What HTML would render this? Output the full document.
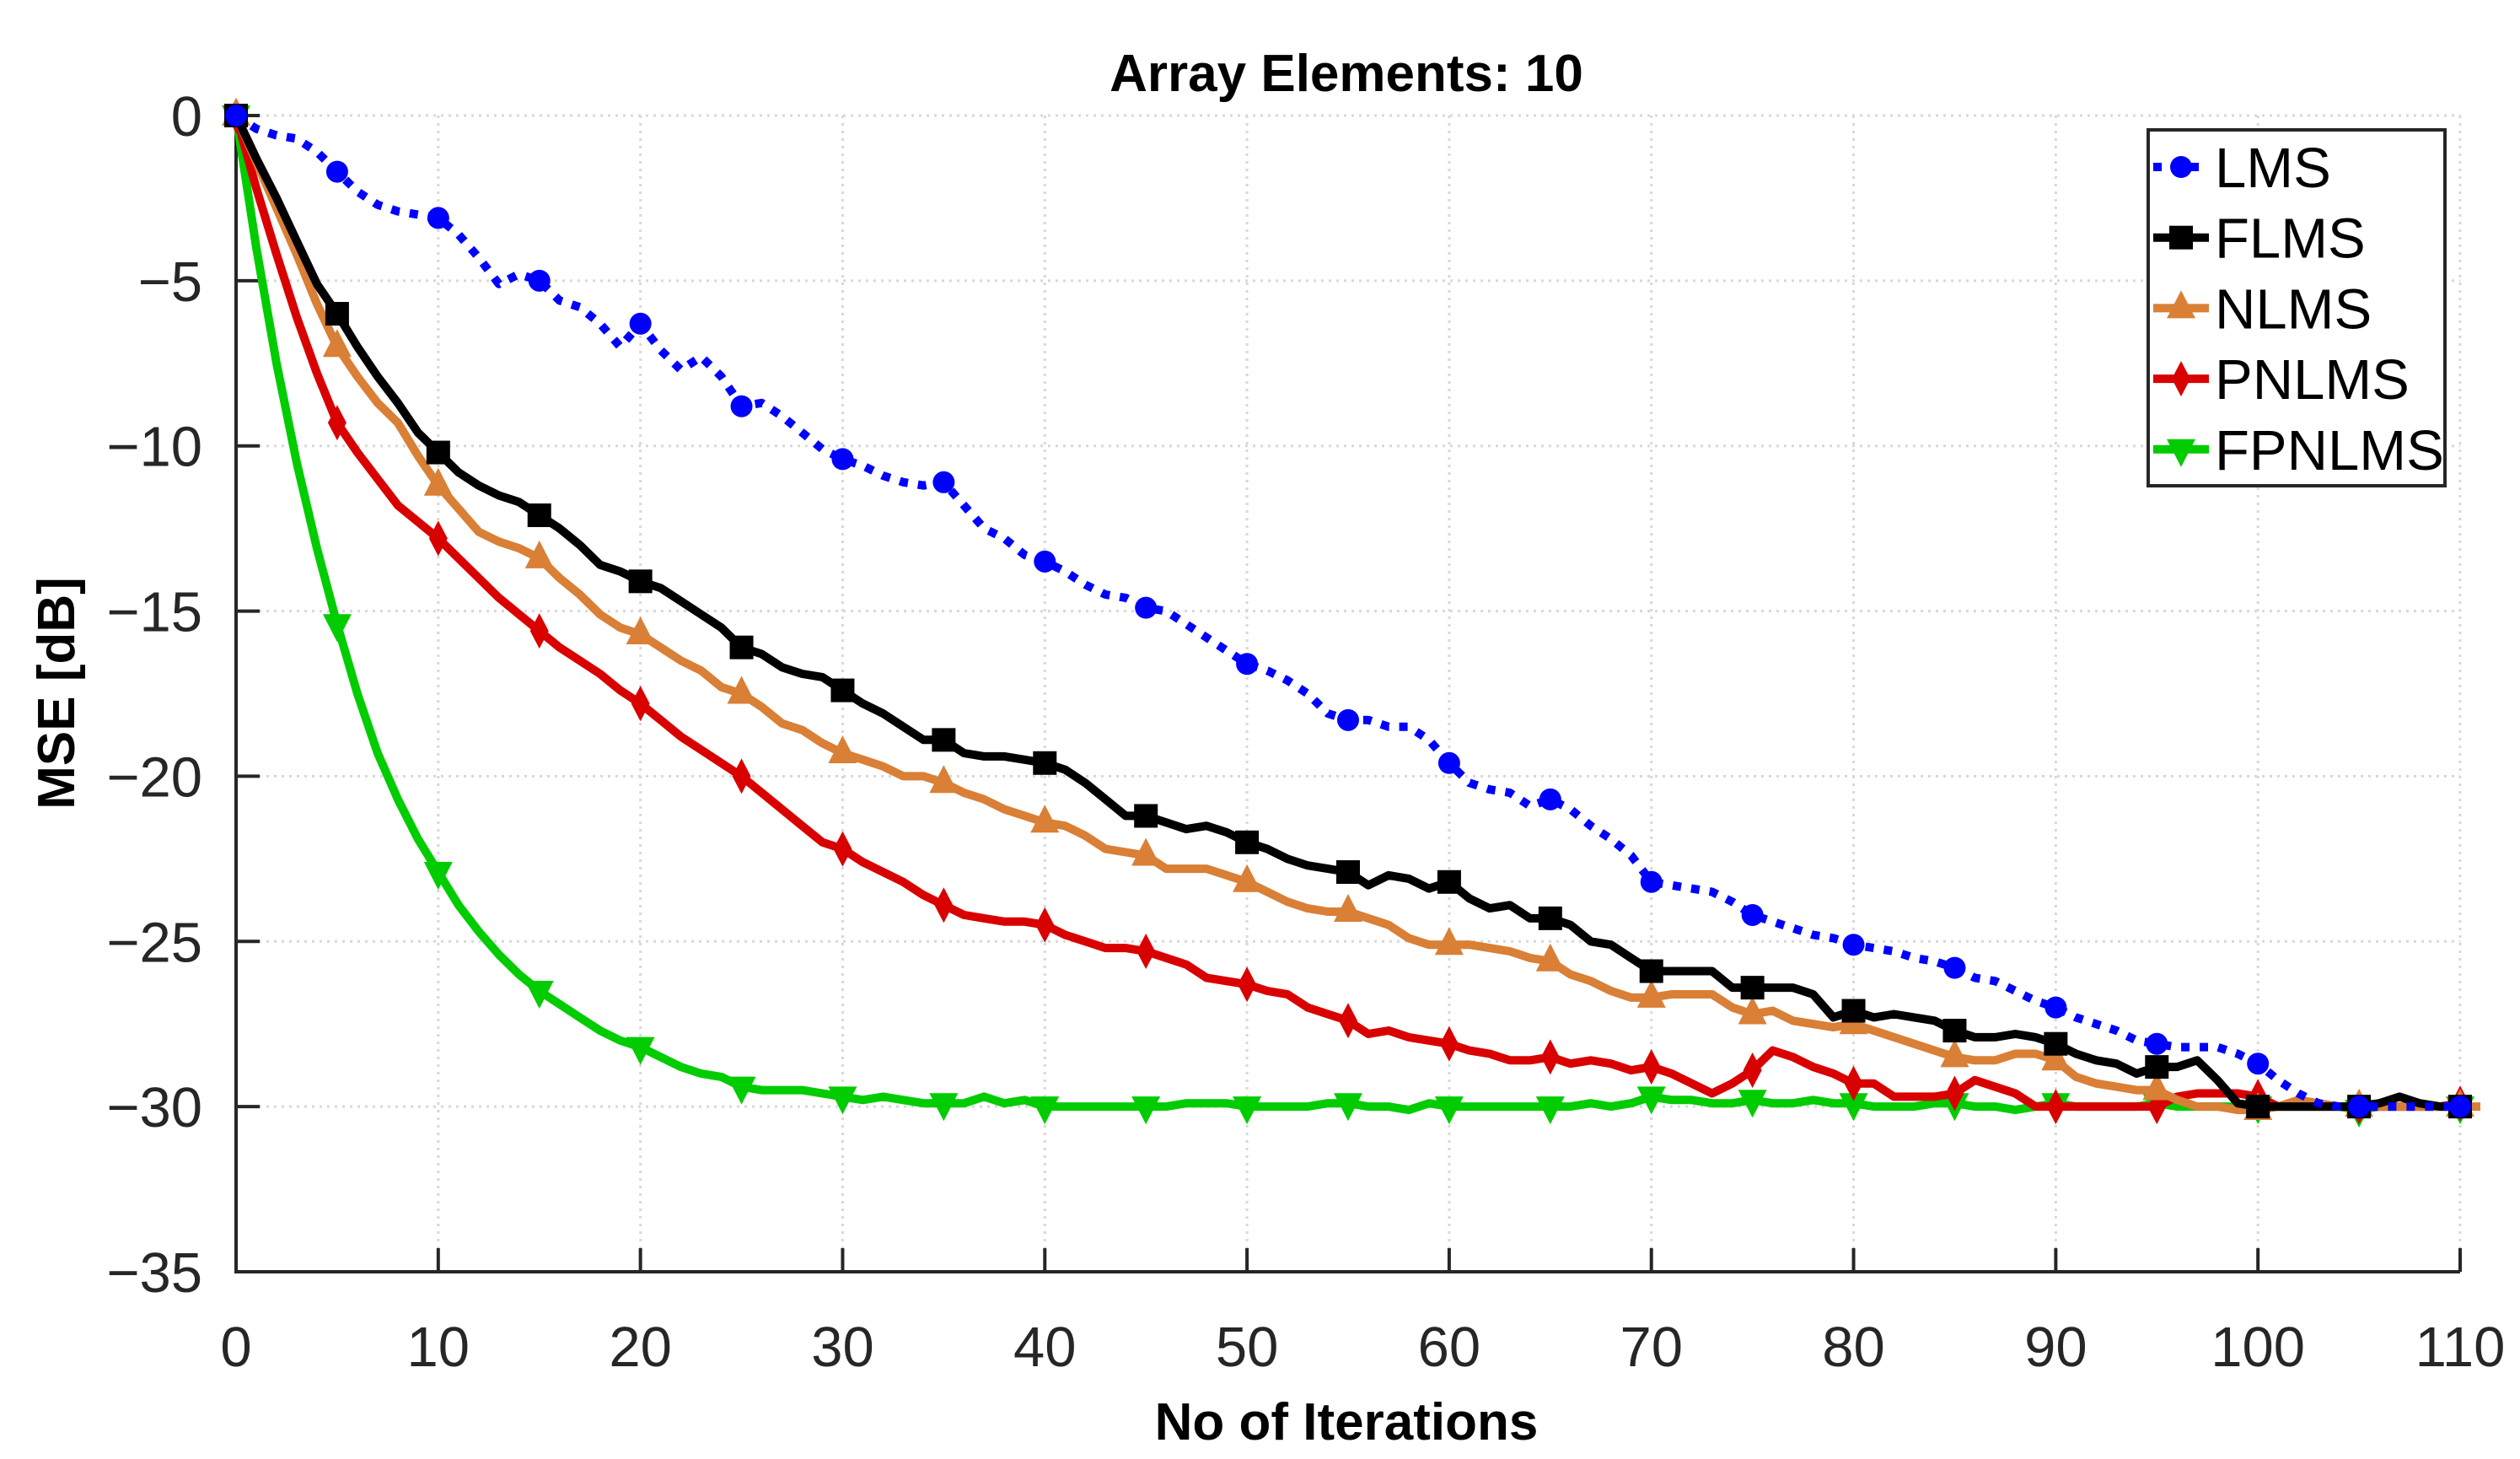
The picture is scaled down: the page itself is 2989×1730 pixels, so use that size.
<!DOCTYPE html>
<html><head><meta charset="utf-8"><style>
html,body{margin:0;padding:0;background:#fff;}
svg{display:block;font-family:"Liberation Sans",Arial,sans-serif;}
</style></head><body>
<svg id="chart" width="2989" height="1730" viewBox="0 0 2989 1730" xmlns="http://www.w3.org/2000/svg">
<rect width="2989" height="1730" fill="#fff"/>
<g id="grid"></g>
<g id="axes"></g>
<g id="series"></g>
<text x="1597" y="108" text-anchor="middle" font-size="62" font-weight="bold" fill="#000">Array Elements: 10</text>
<text x="1597" y="1707" text-anchor="middle" font-size="62" font-weight="bold" fill="#000">No of Iterations</text>
<text x="0" y="0" transform="translate(88,822) rotate(-90)" text-anchor="middle" font-size="62" font-weight="bold" fill="#000">MSE [dB]</text>
<g id="legend"></g>
</svg>
<script>
const xTicks=[0,10,20,30,40,50,60,70,80,90,100,110];
const yTicks=[0,-5,-10,-15,-20,-25,-30,-35];
const seriesNames=["LMS","FLMS","NLMS","PNLMS","FPNLMS"];
const lmsValues=[0,-0.4,-0.6,-0.7,-1.1,-1.7,-2.3,-2.7,-2.9,-3.0,-3.1,-3.6,-4.3,-5.1,-4.8,-5.0,-5.6,-5.8,-6.3,-7.0,-6.3,-7.1,-7.7,-7.3,-7.9,-8.8,-8.7,-9.1,-9.6,-10.1,-10.4,-10.6,-10.9,-11.1,-11.2,-11.1,-11.8,-12.5,-12.8,-13.3,-13.5,-13.8,-14.2,-14.5,-14.6,-14.9,-15.0,-15.4,-15.8,-16.2,-16.6,-16.8,-17.1,-17.5,-18.1,-18.3,-18.3,-18.5,-18.5,-18.9,-19.6,-20.2,-20.4,-20.5,-20.9,-20.7,-21.0,-21.5,-21.9,-22.4,-23.2,-23.3,-23.4,-23.5,-23.8,-24.2,-24.4,-24.6,-24.8,-24.9,-25.1,-25.2,-25.3,-25.5,-25.6,-25.8,-26.1,-26.2,-26.5,-26.8,-27.0,-27.3,-27.5,-27.7,-28.0,-28.1,-28.2,-28.2,-28.2,-28.4,-28.7,-29.2,-29.6,-29.9,-30.0,-30.0,-30.0,-30.0,-30.0,-30.0,-30.0];
const flmsValues=[0,-1.3,-2.5,-3.8,-5.1,-6.0,-7.0,-7.9,-8.7,-9.6,-10.2,-10.8,-11.2,-11.5,-11.7,-12.1,-12.5,-13.0,-13.6,-13.8,-14.1,-14.3,-14.7,-15.1,-15.5,-16.1,-16.3,-16.7,-16.9,-17.0,-17.4,-17.8,-18.1,-18.5,-18.9,-18.9,-19.3,-19.4,-19.4,-19.5,-19.6,-19.8,-20.2,-20.7,-21.2,-21.2,-21.4,-21.6,-21.5,-21.7,-22.0,-22.2,-22.5,-22.7,-22.8,-22.9,-23.3,-23.0,-23.1,-23.4,-23.2,-23.7,-24.0,-23.9,-24.3,-24.3,-24.5,-25.0,-25.1,-25.5,-25.9,-25.9,-25.9,-25.9,-26.4,-26.4,-26.4,-26.4,-26.6,-27.3,-27.1,-27.3,-27.2,-27.3,-27.4,-27.7,-27.9,-27.9,-27.8,-27.9,-28.1,-28.4,-28.6,-28.7,-29.0,-28.8,-28.8,-28.6,-29.2,-29.9,-30.0,-30.0,-30.0,-30.0,-30.0,-30.0,-29.9,-29.7,-29.9,-30.0,-30.0];
const nlmsValues=[0,-1.4,-2.8,-4.2,-5.7,-7.0,-7.9,-8.7,-9.3,-10.3,-11.2,-11.9,-12.6,-12.9,-13.1,-13.4,-14.0,-14.5,-15.1,-15.5,-15.7,-16.1,-16.5,-16.8,-17.3,-17.5,-17.9,-18.4,-18.6,-19.0,-19.3,-19.5,-19.7,-20.0,-20.0,-20.2,-20.5,-20.7,-21.0,-21.2,-21.4,-21.5,-21.8,-22.2,-22.3,-22.4,-22.8,-22.8,-22.8,-23.0,-23.2,-23.5,-23.8,-24.0,-24.1,-24.1,-24.3,-24.5,-24.9,-25.1,-25.1,-25.1,-25.2,-25.3,-25.5,-25.6,-26.0,-26.2,-26.5,-26.7,-26.7,-26.6,-26.6,-26.6,-27.0,-27.2,-27.1,-27.4,-27.5,-27.6,-27.5,-27.7,-27.9,-28.1,-28.3,-28.5,-28.6,-28.6,-28.4,-28.4,-28.6,-29.1,-29.3,-29.4,-29.5,-29.5,-29.8,-30.0,-30.0,-30.1,-30.1,-30.0,-29.8,-29.9,-30.0,-30.0,-30.0,-30.0,-30.0,-30.0,-30.0,-30.0];
const pnlmsValues=[0,-2.2,-4.2,-6.1,-7.8,-9.3,-10.2,-11.0,-11.8,-12.3,-12.8,-13.4,-14.0,-14.6,-15.1,-15.6,-16.1,-16.5,-16.9,-17.4,-17.8,-18.3,-18.8,-19.2,-19.6,-20.0,-20.5,-21.0,-21.5,-22.0,-22.2,-22.6,-22.9,-23.2,-23.6,-23.9,-24.2,-24.3,-24.4,-24.4,-24.5,-24.8,-25.0,-25.2,-25.2,-25.3,-25.5,-25.7,-26.1,-26.2,-26.3,-26.5,-26.6,-27.0,-27.2,-27.4,-27.8,-27.7,-27.9,-28.0,-28.1,-28.3,-28.4,-28.6,-28.6,-28.5,-28.7,-28.6,-28.7,-28.9,-28.8,-29.0,-29.3,-29.6,-29.3,-28.9,-28.3,-28.5,-28.8,-29.0,-29.3,-29.3,-29.7,-29.7,-29.7,-29.6,-29.2,-29.4,-29.6,-30.0,-30.0,-30.0,-30.0,-30.0,-30.0,-30.0,-29.7,-29.6,-29.6,-29.6,-29.7,-30.0,-30.0,-30.0,-30.0,-30.0,-30.0,-30.0,-30.0,-30.0,-29.9];
const fpnlmsValues=[0,-4.0,-7.5,-10.5,-13.1,-15.4,-17.5,-19.3,-20.7,-21.9,-22.9,-23.9,-24.7,-25.4,-26.0,-26.5,-26.9,-27.3,-27.7,-28.0,-28.2,-28.5,-28.8,-29.0,-29.1,-29.4,-29.5,-29.5,-29.5,-29.6,-29.7,-29.8,-29.7,-29.8,-29.9,-29.9,-29.9,-29.7,-29.9,-29.8,-30.0,-30.0,-30.0,-30.0,-30.0,-30.0,-30.0,-29.9,-29.9,-29.9,-30.0,-30.0,-30.0,-30.0,-29.9,-29.9,-30.0,-30.0,-30.1,-29.9,-30.0,-30.0,-30.0,-30.0,-30.0,-30.0,-30.0,-29.9,-30.0,-29.9,-29.7,-29.8,-29.8,-29.9,-29.9,-29.8,-29.9,-29.9,-29.8,-29.9,-29.9,-30.0,-30.0,-30.0,-29.9,-29.9,-30.0,-30.0,-30.1,-30.0,-29.9,-30.0,-30.0,-30.0,-30.0,-29.9,-30.0,-30.0,-30.0,-30.0,-30.0,-30.0,-30.0,-30.0,-30.0,-30.1,-30.0,-30.0,-30.0,-30.0,-30.0];

const NS="http://www.w3.org/2000/svg";
const X0=280,X1=2918,Y0=137,Y1=1508;
function xs(v){return X0+(v-0)/(110-0)*(X1-X0);}
function ys(v){return Y0+(0-v)/(0-(-35))*(Y1-Y0);}
function el(tag,attrs,parent){const e=document.createElementNS(NS,tag);for(const k in attrs)e.setAttribute(k,attrs[k]);parent.appendChild(e);return e;}

const grid=document.getElementById('grid');
const axes=document.getElementById('axes');
xTicks.forEach(t=>{
  const g=el('line',{x1:xs(t),x2:xs(t),y1:Y0,y2:Y1,stroke:'#d8d8d8','stroke-width':3,'stroke-dasharray':'3 6'},grid);
  
  
  const tk=el('line',{x1:xs(t),x2:xs(t),y1:Y1,y2:Y1-28,stroke:'#262626','stroke-width':4},axes);
  
  
  const lb=el('text',{x:xs(t),y:1620,'text-anchor':'middle','font-size':67,fill:'#262626'},axes);
  lb.textContent=String(t);
  
  
});
yTicks.forEach(t=>{
  const g=el('line',{x1:X0,x2:X1,y1:ys(t),y2:ys(t),stroke:'#d8d8d8','stroke-width':3,'stroke-dasharray':'3 6'},grid);
  
  
  const tk=el('line',{x1:X0,x2:X0+28,y1:ys(t),y2:ys(t),stroke:'#262626','stroke-width':4},axes);
  
  
  const lb=el('text',{x:240,y:ys(t)+24,'text-anchor':'end','font-size':67,fill:'#262626'},axes);
  lb.textContent=(t<0?'\u2212'+Math.abs(t):String(t));
  
  
});
const ax=el('path',{d:`M${X0} ${Y0-2} L${X0} ${Y1} L${X1} ${Y1}`,fill:'none',stroke:'#262626','stroke-width':4},axes);



function marker(type,cx,cy,color,parent){
  const s=14;let m;
  if(type==='circle')m=el('circle',{cx:cx,cy:cy,r:13,fill:color},parent);
  else if(type==='square')m=el('rect',{x:cx-s,y:cy-s,width:2*s,height:2*s,fill:color},parent);
  else if(type==='up')m=el('polygon',{points:`${cx},${cy-21} ${cx-17},${cy+12} ${cx+17},${cy+12}`,fill:color},parent);
  else if(type==='down')m=el('polygon',{points:`${cx},${cy+21} ${cx-17},${cy-12} ${cx+17},${cy-12}`,fill:color},parent);
  else m=el('polygon',{points:`${cx},${cy-21} ${cx+11},${cy} ${cx},${cy+21} ${cx-11},${cy}`,fill:color},parent);
  return m;
}
const seriesData=[fpnlmsValues,pnlmsValues,nlmsValues,flmsValues,lmsValues];
const seriesStyle=[
 {name:'fpnlms',color:'#00cc00',m:'down',dash:null},
 {name:'pnlms',color:'#d90000',m:'diamond',dash:null},
 {name:'nlms',color:'#d97f36',m:'up',dash:null},
 {name:'flms',color:'#000000',m:'square',dash:null},
 {name:'lms',color:'#0000ff',m:'circle',dash:'10 12'}];
const sg=document.getElementById('series');
seriesData.forEach((vals,i)=>{
  const st=seriesStyle[i];
  const g=el('g',{},sg);
  
  
  const d=vals.map((v,k)=>(k?'L':'M')+xs(k).toFixed(1)+' '+ys(v).toFixed(1)).join(' ');
  const p=el('path',{d:d,fill:'none',stroke:st.color,'stroke-width':10,'stroke-linejoin':'round'},g);
  if(st.dash)p.setAttribute('stroke-dasharray',st.dash);
  
  
  vals.forEach((v,k)=>{if(k%5===0){
    const m=marker(st.m,xs(k),ys(v),st.color,g);
    
    
  }});
});

const lg=document.getElementById('legend');
const box=el('rect',{x:2548,y:154,width:352,height:422,fill:'#fff',stroke:'#262626','stroke-width':4},lg);


const legStyles=[seriesStyle[4],seriesStyle[3],seriesStyle[2],seriesStyle[1],seriesStyle[0]];
seriesNames.forEach((n,i)=>{
  const st=legStyles[i];const y=198+i*83.7;
  const g=el('g',{},lg);
  
  
  const l=el('line',{x1:2554,x2:2620,y1:y,y2:y,stroke:st.color,'stroke-width':10},g);
  if(st.dash)l.setAttribute('stroke-dasharray','10 12');
  marker(st.m,2587,y,st.color,g);
  const t=el('text',{x:2627,y:y+24,'font-size':67,fill:'#000'},g);
  t.textContent=n;
});
</script>
</body></html>
